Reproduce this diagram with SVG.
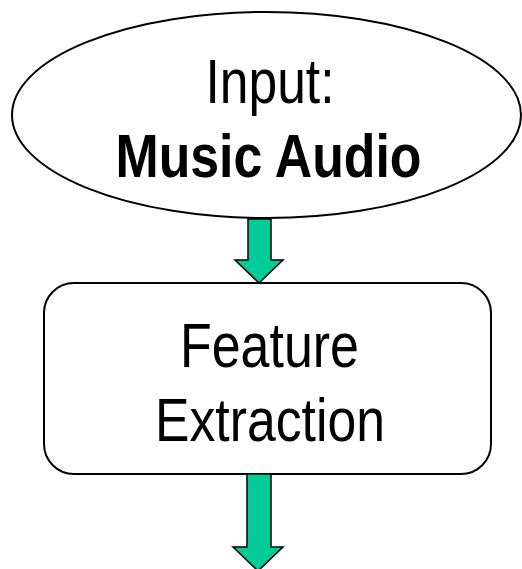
<svg xmlns="http://www.w3.org/2000/svg" width="522" height="569" viewBox="0 0 522 569">
  <style>
    .shape { fill: #ffffff; stroke: #000000; stroke-width: 2; }
    .arrow { fill: #00cc99; stroke: #000000; stroke-width: 1.5; stroke-linejoin: miter; }
    .label { font-family: "Liberation Sans", Arial, sans-serif; fill: #000000; text-anchor: middle; }
    .bold { font-weight: bold; }
  </style>
  <rect width="522" height="569" fill="#ffffff"/>

  <g id="input-node">
    <ellipse class="shape" cx="266.5" cy="115" rx="254.5" ry="103"/>
    <text class="label" x="270" y="103" font-size="63" textLength="129" lengthAdjust="spacingAndGlyphs">Input:</text>
    <text class="label" x="268.5" y="177" font-size="62" font-weight="bold" textLength="306" lengthAdjust="spacingAndGlyphs">Music Audio</text>
  </g>

  <g id="feature-extraction-node">
    <rect class="shape" x="44" y="283" width="447" height="191" rx="30" ry="30"/>
    <text class="label" x="269.5" y="367" font-size="63" textLength="179" lengthAdjust="spacingAndGlyphs">Feature</text>
    <text class="label" x="270" y="441" font-size="62" textLength="230" lengthAdjust="spacingAndGlyphs">Extraction</text>
  </g>

  <g id="connectors">
    <polygon class="arrow" points="248,219 271,219 271,260 283,260 259,283 235,260 248,260"/>
    <polygon class="arrow" points="247,474 271,474 271,547 283,547 258,571 233,547 247,547"/>
  </g>
</svg>
